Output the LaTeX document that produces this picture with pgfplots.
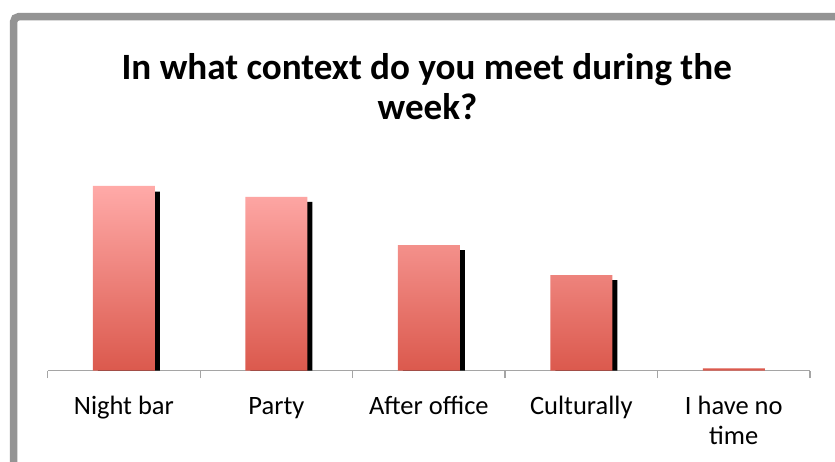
\documentclass[border=0pt]{standalone}
\usepackage{fontspec}
\setmainfont{Carlito}
\usepackage{pgfplots}
\pgfplotsset{compat=1.18}
\definecolor{framegray}{RGB}{148,148,148}
\definecolor{axisgray}{RGB}{165,165,165}
\definecolor{bartop}{RGB}{255,170,168}
\definecolor{barbot}{RGB}{219,89,77}
\begin{document}
\begin{tikzpicture}[x=1pt,y=1pt]
\useasboundingbox (0,0) rectangle (835,461);
\fill[white] (0,0) rectangle (835,461);
\draw[framegray, line width=7.5pt, rounded corners=5pt] (13.65,-20) -- (13.65,444.3) -- (860,444.3);
\node[font=\fontsize{37.1}{40.7}\selectfont\bfseries, anchor=base, inner sep=0pt] at (426.7,381.7) {In what context do you meet during the};
\node[font=\fontsize{37.1}{40.7}\selectfont\bfseries, anchor=base, inner sep=0pt] at (427.5,341) {week?};
\begin{axis}[
  at={(47.7pt,90.3pt)}, anchor=south west,
  scale only axis, width=762.3pt, height=210pt,
  xmin=-0.5, xmax=4.5, ymin=0, ymax=210,
  axis x line=bottom, axis y line=none,
  axis line style={draw=axisgray, line width=1.2pt, -},
  xtick={0,1,2,3,4},
  xticklabels={\strut Night bar, \strut Party, \strut After office, \strut Culturally, \strut I have no\\time},
  major tick length=0pt,
  minor xtick={-0.5,0.5,1.5,2.5,3.5,4.5},
  minor tick length=7.5pt,
  tick align=outside,
  tick style={draw=axisgray, line width=1.2pt},
  xticklabel style={font=\fontsize{26.5}{30}\selectfont, align=center, text=black, yshift=-19pt},
  clip=false,
]
\addplot[ybar, bar width=62pt, bar shift=5pt, fill=black, draw=none]
  coordinates {(0,179) (1,168.7) (2,120.7) (3,90.7)};
\addplot[ybar, bar width=62pt, bar shift=0pt, draw=none, top color=bartop, bottom color=barbot]
  coordinates {(0,184.7) (1,173.7) (2,125.7) (3,95.7) (4,2.4)};
\end{axis}
\end{tikzpicture}
\end{document}
